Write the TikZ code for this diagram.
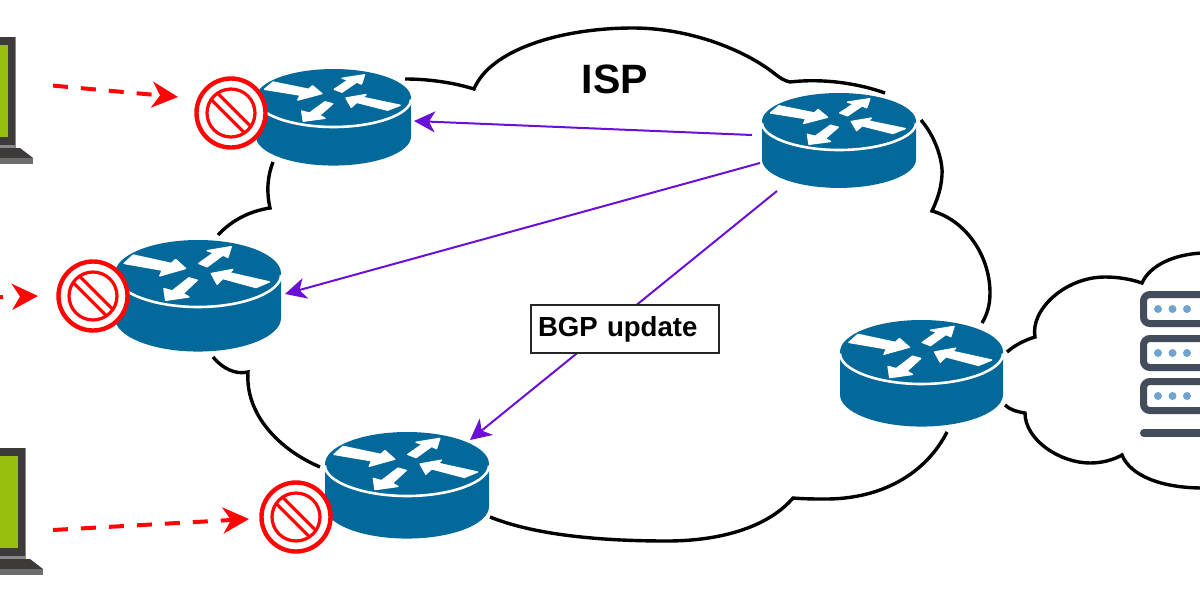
\documentclass[tikz,border=0pt]{standalone}
\usepackage{fontspec}
\setmainfont{Liberation Sans}
\usetikzlibrary{arrows.meta}
\definecolor{routerblue}{HTML}{03689A}
\definecolor{attackred}{HTML}{FF0505}
\definecolor{updatepurple}{HTML}{6A0FD8}
\definecolor{laptopdark}{HTML}{3F3A3A}
\definecolor{laptopedge}{HTML}{8A8888}
\definecolor{laptopscreen}{HTML}{97BF0D}
\definecolor{serverslate}{HTML}{434C5A}
\definecolor{serverdot}{HTML}{6FA3D0}
\tikzset{
  cloudline/.style={draw=black,line width=1.7pt,line join=miter,miter limit=10},
  updatearrow/.style={draw=updatepurple,line width=1pt,-{Stealth[length=10.5pt,width=10.5pt,inset=3pt]}},
  attackarrow/.style={draw=attackred,line width=2pt,dash pattern=on 7.5pt off 6.5pt,-{Stealth[length=13pt,width=13pt,inset=4pt]}},
  labelbox/.style={draw=black!85,line width=1.2pt,fill=white,minimum height=24pt,text width=87pt,inner xsep=3.5pt,inner ysep=0pt,align=left,font=\fontsize{13.8}{16}\selectfont\bfseries},
  routerarrow/.style={fill=white,draw=white,line width=.7pt,line join=round},
}
% Cisco-style router: disc with four arrows; scaled by half-width and half-height of its top face
\newcommand{\routericon}[4]{%
  \begin{scope}[shift={(#1,#2)},xscale=#3,yscale=#4]
    \fill[routerblue] (-1,0) -- (-1,1.33)
      .. controls (-1,1.88) and (-.55,2.33) .. (0,2.33)
      .. controls (.55,2.33) and (1,1.88) .. (1,1.33) -- (1,0)
      .. controls (1,-.55) and (.55,-1) .. (0,-1)
      .. controls (-.55,-1) and (-1,-.55) .. (-1,0) -- cycle;
    \draw[white,line width=1.3pt] (-1,.05)
      .. controls (-1,.55) and (-.55,1) .. (0,1)
      .. controls (.55,1) and (1,.55) .. (1,.05);
    \path[routerarrow] (-.78,-.55) -- (-.89,-.30) -- (-.43,-.10) -- (-.46,.07) -- (-.15,-.15) -- (-.27,-.42) -- (-.32,-.30) -- cycle;
    \path[routerarrow] (.01,-.30) -- (.19,-.62) -- (.11,-.68) -- (.40,-.80) -- (.36,-.48) -- (.30,-.55) -- (.11,-.20) -- cycle;
    \path[routerarrow] (.16,0) -- (.42,-.12) -- (.38,-.02) -- (.86,.25) -- (.70,.42) -- (.30,.15) -- (.23,.32) -- cycle;
    \path[routerarrow] (-.11,.13) -- (-.01,.20) -- (-.18,.60) -- (-.11,.70) -- (-.39,.80) -- (-.41,.45) -- (-.31,.52) -- cycle;
  \end{scope}}
% Prohibition sign centred on the given point
\newcommand{\blocksign}[2]{%
  \begin{scope}[shift={(#1,#2)}]
    \draw[attackred,fill=white,line width=2.2pt] (0,0) circle[radius=34.5];
    \draw[attackred,line width=1.6pt] (0,0) circle[radius=24];
    \draw[attackred,line width=1.6pt] (-13.4,-19.8) -- (19.8,13.4);
    \draw[attackred,line width=1.6pt] (-19.8,-13.4) -- (13.4,19.8);
  \end{scope}}
% Laptop running off the left edge; the point is the top right corner of the lid
\newcommand{\laptopicon}[2]{%
  \begin{scope}[shift={(#1,#2)}]
    \fill[laptopdark] (-60,0) rectangle (0,108);
    \fill[laptopedge] (-1.5,0) rectangle (0,108);
    \fill[laptopscreen] (-60,8) rectangle (-8.5,100);
    \fill[laptopedge] (-60,108) rectangle (0,111);
    \fill[laptopdark] (-60,111) -- (4,111) -- (17,121) -- (-60,121) -- cycle;
    \fill[laptopedge!80!black] (-60,121) rectangle (17,127);
  \end{scope}}
\begin{document}
\begin{tikzpicture}[x=0.5pt,y=-0.5pt]
  \useasboundingbox (0,0) rectangle (1200,600);
  \clip (0,0) rectangle (1200,600);
  \fill[white] (0,0) rectangle (1200,600);

  % ISP cloud, drawn lobe by lobe with gaps around the routers
  \draw[cloudline] (405,79) .. controls (430,79) and (455,83) .. (474,89)
    .. controls (490,50) and (560,28) .. (633,28)
    .. controls (690,28) and (745,50) .. (775,74)
    .. controls (780,78) and (785,81) .. (790,82)
    .. controls (825,78) and (860,84) .. (885,93);
  \draw[cloudline] (921,120) .. controls (938,140) and (943,165) .. (942,175)
    .. controls (941,190) and (937,200) .. (932,211)
    .. controls (965,220) and (990,255) .. (990,293)
    .. controls (990,305) and (987,315) .. (982,323);
  \draw[cloudline] (947,432) .. controls (925,475) and (880,499) .. (826,499)
    .. controls (815,499) and (805,499) .. (793,498)
    .. controls (770,525) and (725,541) .. (667,541)
    .. controls (600,541) and (535,535) .. (490,517);
  \draw[cloudline] (320,467) .. controls (280,450) and (245,415) .. (248,372)
    .. controls (235,375) and (222,368) .. (213,357);
  \draw[cloudline] (218,235) .. controls (232,220) and (250,211) .. (270,208)
    .. controls (266,190) and (268,175) .. (273,162);

  % Customer cloud on the right edge
  \draw[cloudline] (1007,352) .. controls (1015,345) and (1025,340) .. (1035,337)
    .. controls (1030,310) and (1065,277) .. (1105,277)
    .. controls (1118,277) and (1130,279) .. (1142,283)
    .. controls (1150,265) and (1175,254) .. (1203,253);
  \draw[cloudline] (1005,405) .. controls (1010,410) and (1018,412) .. (1025,413)
    .. controls (1025,440) and (1060,463) .. (1090,463)
    .. controls (1102,463) and (1113,460) .. (1122,455)
    .. controls (1130,475) and (1160,488) .. (1203,488);

  % Server rack
  \foreach \top/\dy in {291/309,335/353,378/396}{
    \draw[serverslate,fill=white,line width=3.5pt,rounded corners=3.2pt] (1143.5,\top+3.5) rectangle (1240,\top+32.5);
    \foreach \dx in {1158,1172.5,1187}{\fill[serverdot] (\dx,\dy) circle[radius=4];}
  }
  \draw[serverslate,line width=4pt,line cap=round] (1144,433) -- (1240,433);

  % Routers
  \routericon{333.5}{98}{77.5}{29}
  \routericon{198}{273.5}{83}{33.5}
  \routericon{407}{464}{82}{32}
  \routericon{839}{121.5}{77}{28.5}
  \routericon{921.5}{352}{81.5}{32}

  % Laptops at the left edge
  \laptopicon{16}{37}
  \laptopicon{26}{448}

  % Route updates sent from the core router
  \coordinate (core-a) at (752,135);
  \coordinate (core-b) at (760,163);
  \coordinate (core-c) at (777,191);
  \coordinate (edge-a) at (414,121);
  \coordinate (edge-b) at (285,294);
  \coordinate (edge-c) at (470,440);
  \draw[updatearrow] (core-a) -- (edge-a);
  \draw[updatearrow] (core-b) -- (edge-b);
  \draw[updatearrow] (core-c) -- (edge-c);

  % Dropped traffic
  \coordinate (src-a) at (53,85.6);
  \coordinate (src-b) at (-12,297.5);
  \coordinate (src-c) at (53,530);
  \coordinate (drop-a) at (178,97);
  \coordinate (drop-b) at (38,296);
  \coordinate (drop-c) at (249,519);
  \draw[attackarrow] (src-a) -- (drop-a);
  \draw[attackarrow,dash pattern=on 7.5pt off 14pt] (src-b) -- (drop-b);
  \draw[attackarrow] (src-c) -- (drop-c);

  \blocksign{231}{113}
  \blocksign{93}{296}
  \blocksign{296}{517}

  % Labels
  \node[labelbox] (bgp) at (625,329) {\raisebox{-1.5pt}{BGP update}};
  \node[font=\fontsize{20.5}{24}\selectfont\bfseries,inner sep=0pt] (isp) at (615,79) {ISP};
\end{tikzpicture}
\end{document}
